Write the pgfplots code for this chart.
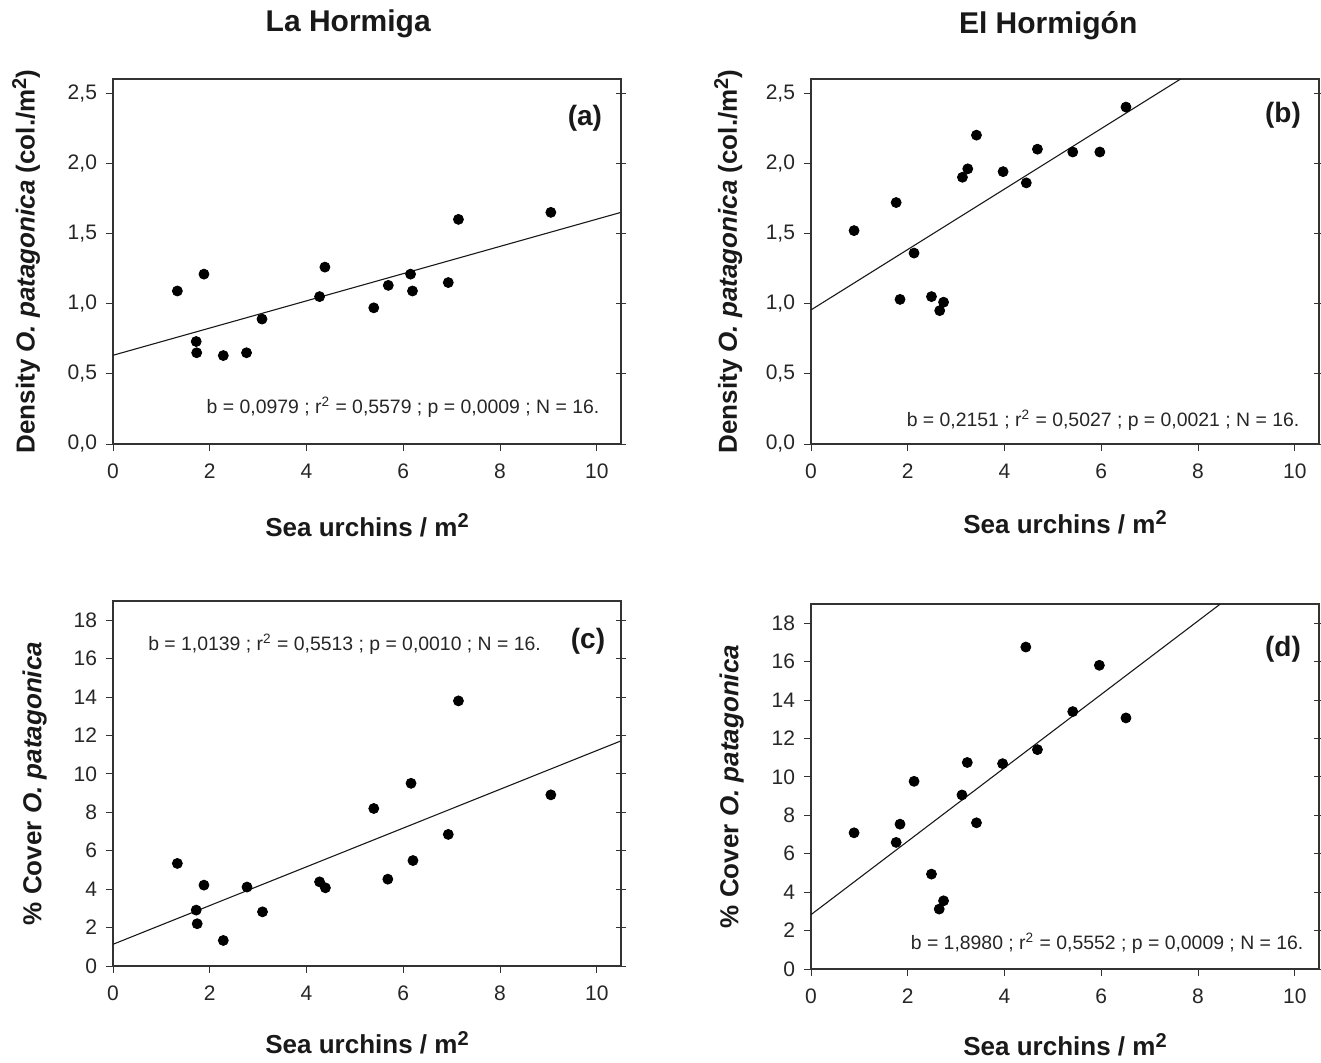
\documentclass[border=0pt]{standalone}
\usepackage{fontspec}
\setmainfont{Liberation Sans}
\usepackage{pgfplots}
\pgfplotsset{compat=1.18}

\newcommand{\sq}{\raisebox{0.62ex}{\fontsize{10}{10}\selectfont 2}}

\tikzset{
 stat/.style={font=\fontsize{9.7}{11}\selectfont, text=black!85, inner sep=0pt},
 plab/.style={font=\bfseries\fontsize{14}{16}\selectfont, text=black!90},
 dots/.style={only marks, mark=*, mark size=2.5pt, black},
 fit/.style={black!90, line width=0.55pt},
}

\pgfplotsset{
 panel/.style={
  anchor=south west,
  scale only axis, width=254pt, height=182.5pt,
  xmin=0, xmax=10.5,
  xtick={0,2,...,10},
  xtick pos=bottom, ytick pos=left,
  tick align=outside, major tick length=3.5pt,
  tick style={black!80, line width=0.5pt},
  axis line style={black!80, line width=0.6pt},
  tick label style={font=\fontsize{10.5}{12}\selectfont, text=black!85},
  /pgf/number format/assume math mode=true,
  xticklabel style={yshift=-3pt},
  yticklabel style={xshift=-1pt},
  label style={font=\bfseries\fontsize{13}{15}\selectfont, text=black!90},
  title style={font=\bfseries\fontsize{15}{18}\selectfont, text=black!90},
  xlabel={Sea urchins / m\sq},
  clip=true,
 },
 density/.style={ymin=0, ymax=2.6, ytick={0,0.5,...,2.5},
  yticklabel style={/pgf/number format/.cd, fixed, fixed zerofill, precision=1, use comma},
  ylabel={Density \textit{O. patagonica} (col./m\sq)}},
 cover/.style={ymin=0, ymax=19, ytick={0,2,...,18},
  ylabel={\% Cover \textit{O. patagonica}}},
 rightticks/.style={
  anchor=south west, scale only axis, width=254pt, height=182.5pt,
  xmin=0, xmax=10.5, hide x axis, axis y line*=right,
  tick align=center, major tick length=5pt, yticklabels={},
  tick style={black!80, line width=0.5pt},
  axis line style={black!80, line width=0.6pt}},
}

\begin{document}
\begin{tikzpicture}
\useasboundingbox (0,0) rectangle (660.5pt,531pt);

% (a)
\begin{axis}[panel, density, at={(56.5pt,309pt)},
  title={La Hormiga}, title style={at={(axis description cs:0.463,1.118)}, anchor=center},
  xlabel style={at={(axis description cs:0.5,-0.222)}, anchor=center},
  ylabel style={at={(axis description cs:-0.171,0.5)}, anchor=center}]
\addplot[dots] table {
x y
1.33 1.09
1.88 1.21
1.72 0.73
1.73 0.65
2.28 0.63
2.76 0.65
3.08 0.89
4.27 1.05
4.38 1.26
5.39 0.97
5.69 1.13
6.15 1.21
6.19 1.09
6.93 1.15
7.14 1.60
9.05 1.65
};
\addplot[fit, no marks] coordinates {(0,0.632) (10.5,1.65)};
\node[stat, anchor=east] at (rel axis cs:0.958,0.10) {b = 0,0979 ; r\textsuperscript{2} = 0,5579 ; p = 0,0009 ; N = 16.};
\node[plab] at (rel axis cs:0.929,0.893) {(a)};
\end{axis}
\begin{axis}[rightticks, at={(56.5pt,309pt)}, ymin=0, ymax=2.6, ytick={0,0.5,...,2.5}]
\end{axis}

% (b)
\begin{axis}[panel, density, at={(405.5pt,309pt)},
  title={El Hormigón}, title style={at={(axis description cs:0.467,1.112)}, anchor=center},
  xlabel style={at={(axis description cs:0.5,-0.214)}, anchor=center},
  ylabel style={at={(axis description cs:-0.163,0.5)}, anchor=center}]
\addplot[dots] table {
x y
0.89 1.52
1.76 1.72
1.84 1.03
2.13 1.36
2.49 1.05
2.66 0.95
2.74 1.01
3.13 1.90
3.24 1.96
3.42 2.20
3.97 1.94
4.45 1.86
4.68 2.10
5.41 2.08
5.97 2.08
6.51 2.40
};
\addplot[fit, no marks] coordinates {(0,0.955) (7.64,2.6)};
\node[stat, anchor=east] at (rel axis cs:0.962,0.066) {b = 0,2151 ; r\textsuperscript{2} = 0,5027 ; p = 0,0021 ; N = 16.};
\node[plab] at (rel axis cs:0.929,0.901) {(b)};
\end{axis}
\begin{axis}[rightticks, at={(405.5pt,309pt)}, ymin=0, ymax=2.6, ytick={0,0.5,...,2.5}]
\end{axis}

% (c)
\begin{axis}[panel, cover, at={(56.5pt,48pt)},
  xlabel style={at={(axis description cs:0.5,-0.21)}, anchor=center},
  ylabel style={at={(axis description cs:-0.154,0.5)}, anchor=center}]
\addplot[dots] table {
x y
1.33 5.34
1.88 4.21
1.72 2.91
1.74 2.20
2.28 1.33
2.77 4.11
3.09 2.82
4.27 4.38
4.39 4.07
5.39 8.20
5.68 4.52
6.16 9.51
6.20 5.49
6.93 6.85
7.14 13.80
9.05 8.91
};
\addplot[fit, no marks] coordinates {(0,1.13) (10.5,11.72)};
\node[stat, anchor=east] at (rel axis cs:0.843,0.882) {b = 1,0139 ; r\textsuperscript{2} = 0,5513 ; p = 0,0010 ; N = 16.};
\node[plab] at (rel axis cs:0.935,0.891) {(c)};
\end{axis}
\begin{axis}[rightticks, at={(56.5pt,48pt)}, ymin=0, ymax=19, ytick={0,2,...,18}]
\end{axis}

% (d)
\begin{axis}[panel, cover, at={(405.5pt,46.5pt)},
  xlabel style={at={(axis description cs:0.5,-0.208)}, anchor=center},
  ylabel style={at={(axis description cs:-0.156,0.5)}, anchor=center}]
\addplot[dots] table {
x y
0.89 7.09
1.76 6.59
1.84 7.54
2.13 9.77
2.49 4.94
2.65 3.12
2.74 3.55
3.12 9.06
3.23 10.75
3.42 7.61
3.96 10.69
4.44 16.76
4.68 11.42
5.41 13.40
5.96 15.81
6.51 13.07
};
\addplot[fit, no marks] coordinates {(0,2.83) (8.46,19)};
\node[stat, anchor=east] at (rel axis cs:0.97,0.071) {b = 1,8980 ; r\textsuperscript{2} = 0,5552 ; p = 0,0009 ; N = 16.};
\node[plab] at (rel axis cs:0.929,0.877) {(d)};
\end{axis}
\begin{axis}[rightticks, at={(405.5pt,46.5pt)}, ymin=0, ymax=19, ytick={0,2,...,18}]
\end{axis}
\end{tikzpicture}
\end{document}
